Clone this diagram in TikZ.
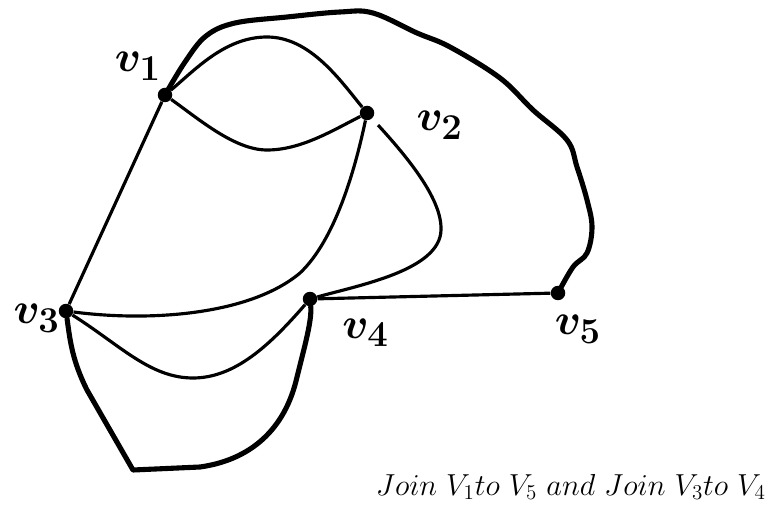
\documentclass[tikz,border=0pt]{standalone}
\usepackage{amsmath,amssymb,bm}
\usetikzlibrary{positioning}

\begin{document}
\begin{tikzpicture}[
  x=0.02cm, y=-0.02cm,
  vtx/.style={circle, fill, inner sep=0pt, minimum size=0.29cm},
  lbl/.style={font=\fontsize{29}{32}\selectfont, inner sep=1pt},
  edge/.style={line width=1.8pt},
  bigedge/.style={line width=2.9pt, line join=round, line cap=round}
]
\useasboundingbox (0,0) rectangle (776,509);

% vertices
\node[vtx] (v1) at (165,95) {};
\node[vtx] (v2) at (367,113) {};
\node[vtx] (v3) at (66,311) {};
\node[vtx] (v4) at (310,299) {};
\node[vtx] (v5) at (558,293) {};

\node[lbl, above left=0.15cm and -2pt of v1] (l1) {$\bm{v_1}$};
\node[lbl, right=0.8cm of v2, yshift=-0.25cm] (l2) {$\bm{v_2}$};
\node[lbl, left=-2pt of v3, yshift=-0.15cm] (l3) {$\bm{v_3}$};
\node[lbl, below right=0.25cm and 0.5cm of v4] (l4) {$\bm{v_4}$};
\node[lbl, below=0.25cm of v5, xshift=0.4cm] (l5) {$\bm{v_5}$};

% edges
\draw[edge] (v1) -- (v3);
\draw[edge] (v1) .. controls (195,70) and (225,37) .. (267,37)
                 .. controls (310,37) and (340,80) .. (v2);
\draw[edge] (v1) .. controls (200,120) and (235,150) .. (267,150)
                 .. controls (300,150) and (330,132) .. (v2);
\draw[edge] (v3) .. controls (150,322) and (250,315) .. (300,273)
                 .. controls (335,240) and (355,170) .. (v2);
\draw[edge, shorten <=5pt] (v2) .. controls (410,160) and (442,200) .. (441,230)
                 .. controls (440,270) and (360,285) .. (v4);
\draw[edge] (v3) .. controls (120,345) and (150,378) .. (193,378)
                 .. controls (235,378) and (270,345) .. (v4);
\draw[edge] (v4) -- (v5);

% joined edges
\draw[bigedge] plot[smooth, tension=0.6] coordinates {(v1) (185,62) (206,36) (235,23)
  (287,17) (340,12) (373,13) (417,33) (450,47) (500,78) (533,110) (567,140)
  (577,167) (587,200) (592,227) (587,253) (573,267) (v5)};
\draw[bigedge] (v3) .. controls (70,340) and (72,360) .. (87,390) -- (133,470)
  -- (200,467) .. controls (250,460) and (285,430) .. (297,377)
  .. controls (305,345) and (312,320) .. (v4);

\node[anchor=base east, font=\fontsize{17}{20}\selectfont] (note) at (772,495)
  {$Join\ V_1to\ V_5\ and\ Join\ V_3to\ V_4$};
\end{tikzpicture}
\end{document}
